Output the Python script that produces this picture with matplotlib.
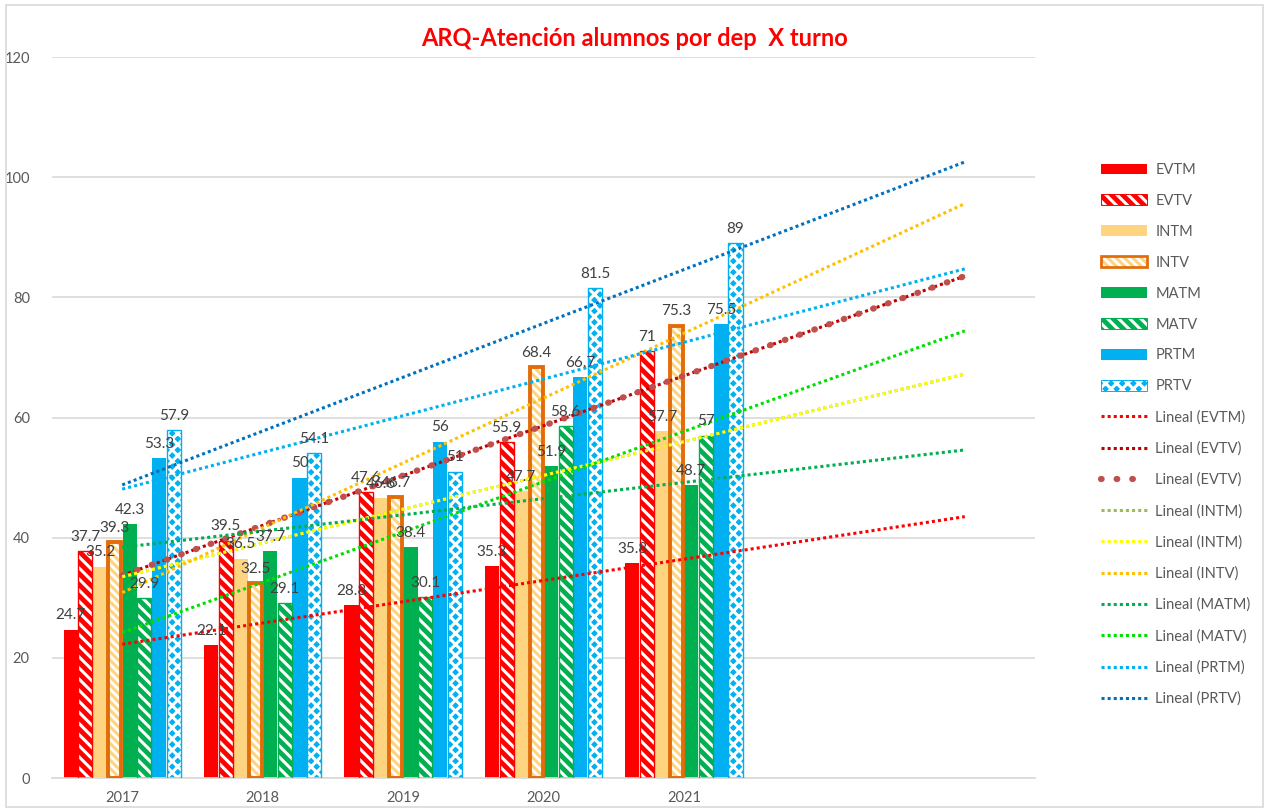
import numpy as np
import matplotlib
matplotlib.use("Agg")
from matplotlib import pyplot as plt
from matplotlib.patches import Patch, Rectangle
from matplotlib.lines import Line2D

plt.rcParams['font.family'] = ['Lato', 'DejaVu Sans']
plt.rcParams['hatch.linewidth'] = 2.2

# data
years = ['2017', '2018', '2019', '2020', '2021']
evtm = [24.7, 22.1, 28.8, 35.3, 35.8]
evtv = [37.7, 39.5, 47.6, 55.9, 71]
intm = [35.2, 36.5, 46.6, 47.7, 57.7]
intv = [39.3, 32.5, 46.7, 68.4, 75.3]
matm = [42.3, 37.7, 38.4, 51.9, 48.7]
matv = [29.9, 29.1, 30.1, 58.6, 57]
prtm = [53.3, 50, 56, 66.7, 75.5]
prtv = [57.9, 54.1, 51, 81.5, 89]

names = ['EVTM', 'EVTV', 'INTM', 'INTV', 'MATM', 'MATV', 'PRTM', 'PRTV']
series = [evtm, evtv, intm, intv, matm, matv, prtm, prtv]

# bar styles: (face, hatch, hatch colour, edge colour, edge width)
styles = [
    ('#FF0000', None, None, '#FF0000', 0),
    ('#FF0000', '\\\\\\', 'white', '#FF0000', 1.0),
    ('#FFD480', None, None, '#FFD480', 0),
    ('white', '\\\\\\\\', '#FFD480', '#E36C0A', 2.8),
    ('#00B050', None, None, '#00B050', 0),
    ('#00B050', '\\\\\\', 'white', '#00B050', 1.0),
    ('#00B0F0', None, None, '#00B0F0', 0),
    ('#00B0F0', 'xxx', 'white', '#00B0F0', 1.0),
]

dot = (0, (1, 1))
# trendlines (series index, label, colour, style, width)
trends = [
    (0, 'Lineal (EVTM)', '#FF0000', dot, 2.2),
    (1, 'Lineal (EVTV)', '#C00000', dot, 2.2),
    (1, 'Lineal (EVTV)', '#C0504D', (0, (0.1, 2.4)), 4.5),
    (2, 'Lineal (INTM)', '#9BBB59', dot, 2.2),
    (2, 'Lineal (INTM)', '#FFFF00', dot, 2.2),
    (3, 'Lineal (INTV)', '#FFC000', dot, 2.2),
    (4, 'Lineal (MATM)', '#00B050', dot, 2.2),
    (5, 'Lineal (MATV)', '#00E000', dot, 2.2),
    (6, 'Lineal (PRTM)', '#00B0F0', dot, 2.2),
    (7, 'Lineal (PRTV)', '#0070C0', dot, 2.2),
]

fig = plt.figure(figsize=(12.69, 8.10), dpi=100)
fig.patches.append(Rectangle((0.005, 0.004), 0.99, 0.99, transform=fig.transFigure,
                             fill=False, edgecolor='#D9D9D9', linewidth=1.2))
ax = fig.add_axes([0.041, 0.0395, 0.7746, 0.8901])

x = np.arange(len(years))
w = 0.105
handles = []
for i, (vals, (fc, hatch, hc, ec, lw)) in enumerate(zip(series, styles)):
    pos = x + (i - 3.5) * w
    ax.bar(pos, vals, w * 0.96, color=fc, hatch=hatch, edgecolor=hc if hatch else fc,
           linewidth=0, zorder=2)
    if lw > 0:
        ax.bar(pos, vals, w * 0.96 - (0.008 if lw > 2 else 0), fill=False,
               edgecolor=ec, linewidth=lw, zorder=3)
    for p, v in zip(pos, vals):
        ax.text(p, v + 1.2, f'{v:g}', ha='center', va='bottom', fontsize=11,
                color='#404040', zorder=6)
    fill = Patch(facecolor=fc, hatch=hatch, edgecolor=hc if hatch else fc, linewidth=0)
    if lw > 0:
        # overlay hatch fill and outline in one legend key
        handles.append((fill, Patch(fill=False, edgecolor=ec, linewidth=lw * 0.7)))
    else:
        handles.append(fill)

# linear trendlines with 2-period forecast
xt = np.arange(0, len(years) + 2)
for idx, lab, col, ls, lwid in trends:
    k, b = np.polyfit(x, series[idx], 1)
    ax.plot(xt, k * xt + b, color=col, linestyle=ls, linewidth=lwid,
            dash_capstyle='round' if lwid > 4 else 'butt', zorder=5)
    handles.append(Line2D([], [], color=col, linestyle=ls, linewidth=lwid,
                          dash_capstyle='round' if lwid > 4 else 'butt'))

ax.set_xlim(-0.5, 6.5)
ax.set_ylim(0, 120)
ax.set_yticks(range(0, 121, 20))
ax.set_xticks(x)
ax.set_xticklabels(years)
ax.tick_params(length=0, labelsize=10.5, labelcolor='#595959')
ax.tick_params(axis='y', pad=16)
ax.tick_params(axis='x', pad=9)
ax.grid(axis='y', color='#D9D9D9', linewidth=1.2, zorder=0)
ax.set_axisbelow(True)
for s in ['top', 'right', 'left']:
    ax.spines[s].set_visible(False)
ax.spines['bottom'].set_color('#D9D9D9')
ax.spines['bottom'].set_linewidth(1.2)

fig.text(0.5, 0.953, 'ARQ-Atención alumnos por dep  X turno', ha='center', va='center',
         fontsize=17, fontweight='bold', color='#FF0000')

labels = names + [t[1] for t in trends]
fig.legend(handles, labels, loc='upper left', bbox_to_anchor=(0.857, 0.815),
           frameon=False, fontsize=10.5, labelcolor='#595959', handlelength=3.2,
           handleheight=0.75, labelspacing=1.16, handletextpad=0.55)

fig.savefig('out.png', dpi=100)
